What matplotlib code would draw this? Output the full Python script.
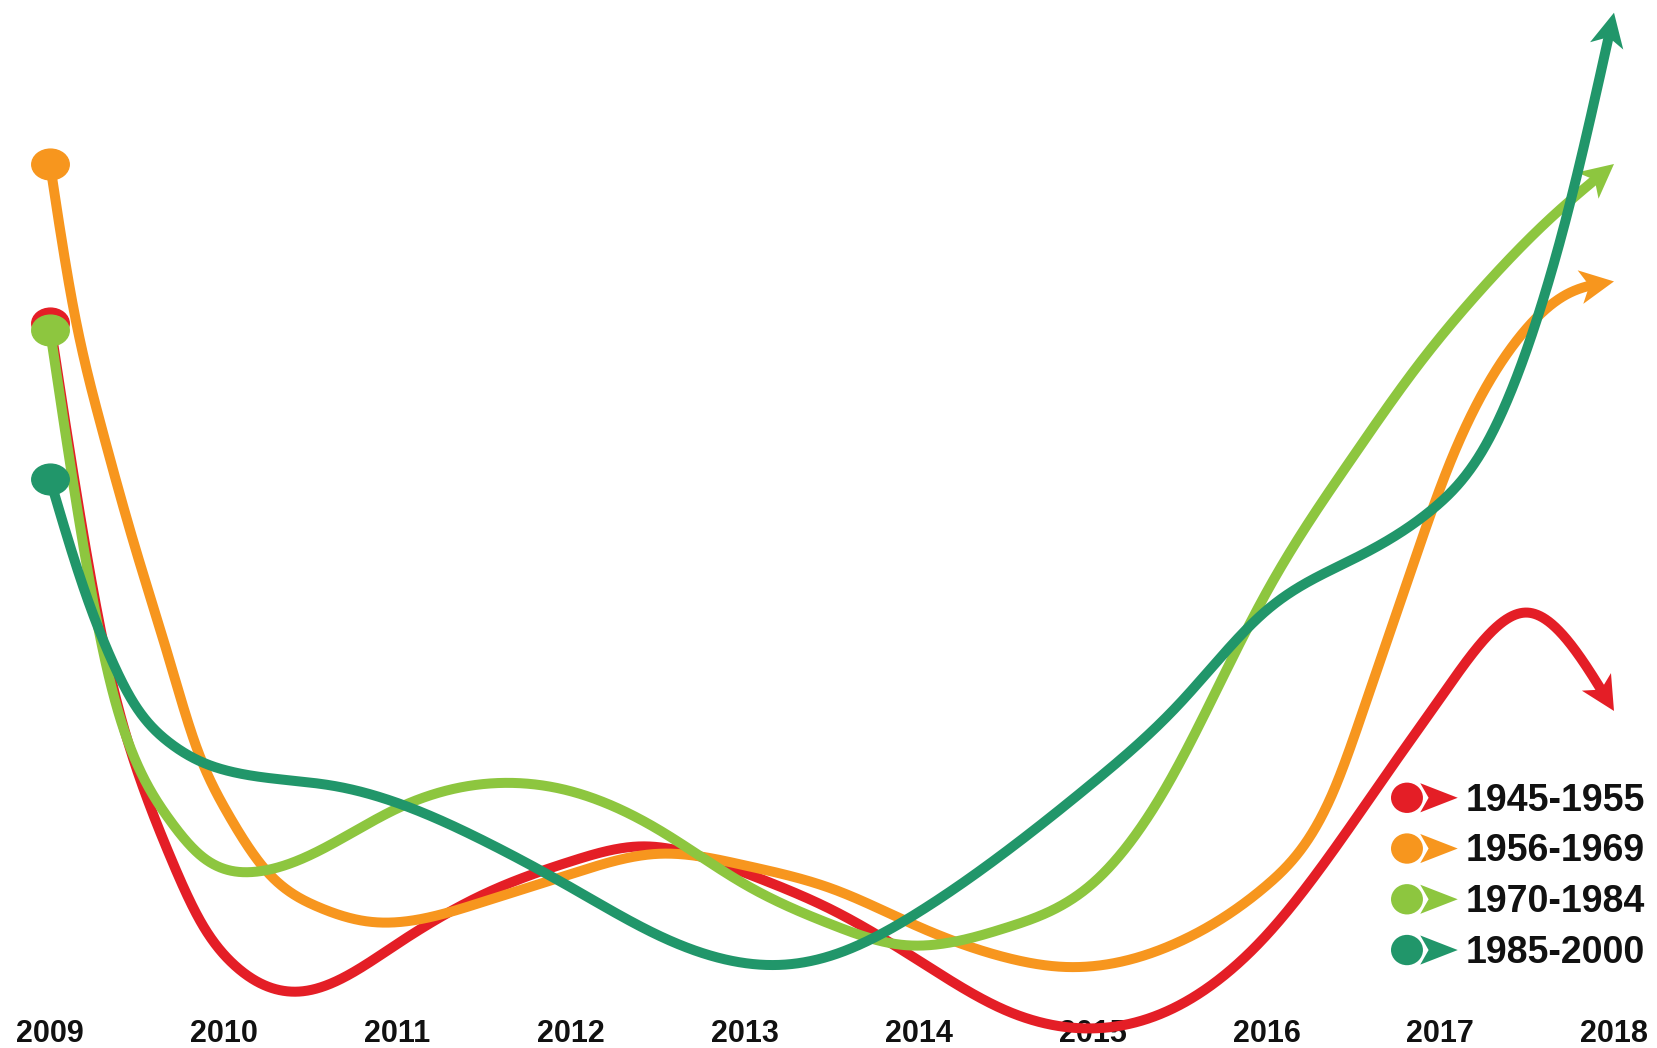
import numpy as np
import matplotlib
matplotlib.use("Agg")
import matplotlib.pyplot as plt
from matplotlib.path import Path
from matplotlib.patches import Polygon, Ellipse
from matplotlib.legend_handler import HandlerBase
from matplotlib.lines import Line2D

# ---------------- data (arbitrary units 0-100) ----------------
years = list(range(2009, 2019))
series_names = ["1945-1955", "1956-1969", "1970-1984", "1985-2000"]
colors = ["#E41E26", "#F7961E", "#8DC63F", "#21966A"]

red_x = [2009, 2009.35, 2009.52, 2009.68, 2009.87, 2010.06, 2010.45, 2011, 2011.5, 2012,
         2012.4, 2013, 2013.5, 2014, 2014.5, 2014.95, 2015.5, 2016, 2016.38, 2016.75,
         2017, 2017.25, 2017.5, 2017.8, 2018]
red_y = [69.5, 36.0, 26.3, 19.5, 12.8, 8.8, 6.3, 10.8, 15.5, 18.6,
         20.0, 17.5, 14.0, 9.2, 4.5, 2.8, 5.0, 11.6, 19.5, 28.2,
         34.0, 39.5, 42.1, 38.0, 32.8]

orange_x = [2009, 2009.13, 2009.29, 2009.48, 2009.68, 2009.84, 2010.02, 2010.25, 2010.54, 2010.83,
            2011.5, 2012, 2012.5, 2013, 2013.5, 2014, 2014.5, 2014.85, 2015.5, 2016,
            2016.38, 2016.57, 2016.81, 2017.05, 2017.44, 2017.73, 2018]
orange_y = [84.5, 71.3, 60.0, 48.8, 38.0, 29.5, 23.2, 17.6, 14.3, 12.9,
            14.8, 17.4, 19.3, 18.2, 16.0, 12.4, 9.5, 8.6, 11.0, 16.3,
            25.0, 33.5, 45.0, 56.0, 67.8, 72.2, 73.4]

lgreen_x = [2009, 2009.35, 2009.48, 2009.68, 2009.87, 2010.18, 2010.5, 2011, 2011.6, 2012,
            2012.5, 2013, 2013.5, 2013.9, 2014.5, 2015, 2015.43, 2015.81, 2016, 2016.48,
            2016.86, 2017.25, 2017.63, 2018]
lgreen_y = [68.8, 35.3, 28.6, 22.7, 19.1, 17.6, 19.2, 23.6, 26.0, 25.2,
            21.6, 16.4, 12.6, 10.7, 12.3, 16.5, 25.8, 38.0, 44.0, 56.4,
            65.2, 72.9, 79.3, 84.5]

dgreen_x = [2009, 2009.19, 2009.35, 2009.48, 2009.68, 2009.87, 2010.06, 2010.64, 2011, 2011.5,
            2012, 2012.5, 2013.2, 2013.5, 2014, 2014.5, 2015, 2015.5, 2016, 2016.48,
            2016.95, 2017.25, 2017.55, 2017.75, 2018]
dgreen_y = [54.7, 44.6, 37.8, 33.6, 29.9, 28.0, 27.0, 25.7, 24.1, 20.5,
            16.1, 11.6, 8.8, 9.7, 13.8, 19.5, 26.0, 33.5, 42.3, 47.0,
            51.8, 57.6, 69.5, 81.0, 98.8]

series_x = [red_x, orange_x, lgreen_x, dgreen_x]
series_y = [red_y, orange_y, lgreen_y, dgreen_y]


def natural_spline(x, y, xs):
    x = np.asarray(x, float)
    y = np.asarray(y, float)
    n = len(x)
    h = np.diff(x)
    A = np.zeros((n, n))
    b = np.zeros(n)
    A[0, 0] = 1
    A[-1, -1] = 1
    for i in range(1, n - 1):
        A[i, i - 1] = h[i - 1]
        A[i, i] = 2 * (h[i - 1] + h[i])
        A[i, i + 1] = h[i]
        b[i] = 3 * ((y[i + 1] - y[i]) / h[i] - (y[i] - y[i - 1]) / h[i - 1])
    c = np.linalg.solve(A, b)
    bb = (y[1:] - y[:-1]) / h - h * (2 * c[:-1] + c[1:]) / 3
    d = (c[1:] - c[:-1]) / (3 * h)
    idx = np.clip(np.searchsorted(x, xs) - 1, 0, n - 2)
    dx = xs - x[idx]
    return y[idx] + bb[idx] * dx + c[idx] * dx ** 2 + d[idx] * dx ** 3


W_PX, H_PX = 1657, 1048
fig = plt.figure(figsize=(W_PX / 100, H_PX / 100), dpi=100)
fig.patch.set_facecolor("white")
x_left, x_right = 50, 1614
ax_bottom_px = 1058
ax = fig.add_axes([x_left / W_PX, (H_PX - ax_bottom_px) / H_PX,
                   (x_right - x_left) / W_PX, ax_bottom_px / H_PX])
ax.set_xlim(2009, 2018)
ax.set_ylim(0, 100)
for s in ax.spines.values():
    s.set_visible(False)
ax.set_yticks([])
ax.set_xticks(years)
ax.set_xticklabels([str(y) for y in years], fontsize=22, fontweight="bold",
                   family="Liberation Sans", color="#111111")
ax.tick_params(axis="x", length=0, pad=-28)
ax.patch.set_alpha(0)

ell = Path.unit_circle()
ellipse_marker = Path(ell.vertices * np.array([1.0, 0.82]), ell.codes)

LW = 7.2
HEAD_L, HEAD_W, NOTCH = 34.0, 17.0, 9.0  # pixels
inv = ax.transData.inverted()

for i, (xv, yv, c) in enumerate(zip(series_x, series_y, colors)):
    z = 3 + i
    xs = np.linspace(xv[0], xv[-1], 4000)
    ys = natural_spline(xv, yv, xs)
    pts = ax.transData.transform(np.column_stack([xs, ys]))
    tip = pts[-1]
    dist = np.hypot(pts[:, 0] - tip[0], pts[:, 1] - tip[1])
    j = np.where(dist >= 22)[0][-1]
    d = (tip - pts[j]) / np.hypot(*(tip - pts[j]))
    p = np.array([-d[1], d[0]])
    k = np.where(dist >= HEAD_L - NOTCH - 2)[0][-1]
    ax.plot(xs[:k + 1], ys[:k + 1], color=c, lw=LW, solid_capstyle="butt",
            solid_joinstyle="round", clip_on=False, zorder=z)
    base = tip - d * HEAD_L
    head = np.array([tip, base + p * HEAD_W, tip - d * (HEAD_L - NOTCH), base - p * HEAD_W])
    ax.add_patch(Polygon(inv.transform(head), closed=True, facecolor=c,
                         edgecolor="none", clip_on=False, zorder=z))
    ax.plot([xv[0]], [yv[0]], marker=ellipse_marker, ms=27, color=c,
            clip_on=False, zorder=z, linestyle="none")


class DropArrowHandler(HandlerBase):
    def create_artists(self, legend, orig_handle, xdescent, ydescent,
                       width, height, fontsize, trans):
        c = orig_handle.get_color()
        cy = -ydescent + height / 2
        x0 = -xdescent
        r = 11.5
        circ = Ellipse((x0 + r, cy), 2 * r, 2 * r * 0.95, facecolor=c,
                       edgecolor="none", transform=trans)
        tip = x0 + width
        L, Wd, n = 27.0, 10.5, 6.0
        b = tip - L
        poly = Polygon([[tip, cy], [b, cy + Wd], [b + n, cy], [b, cy - Wd]],
                       closed=True, facecolor=c, edgecolor="none", transform=trans)
        return [circ, poly]


handles = [Line2D([], [], color=c) for c in colors]
leg = fig.legend(handles, series_names, loc="upper left",
                 bbox_to_anchor=(1391 / W_PX, 1 - 781 / H_PX),
                 bbox_transform=fig.transFigure, frameon=False,
                 borderpad=0, borderaxespad=0, handlelength=1.78, handleheight=1.0,
                 handletextpad=0.2, labelspacing=0.35,
                 prop={"family": "Liberation Sans", "weight": "bold", "size": 27},
                 handler_map={Line2D: DropArrowHandler()})
for t in leg.get_texts():
    t.set_color("#111111")

fig.savefig("out.png", dpi=100, facecolor="white")
